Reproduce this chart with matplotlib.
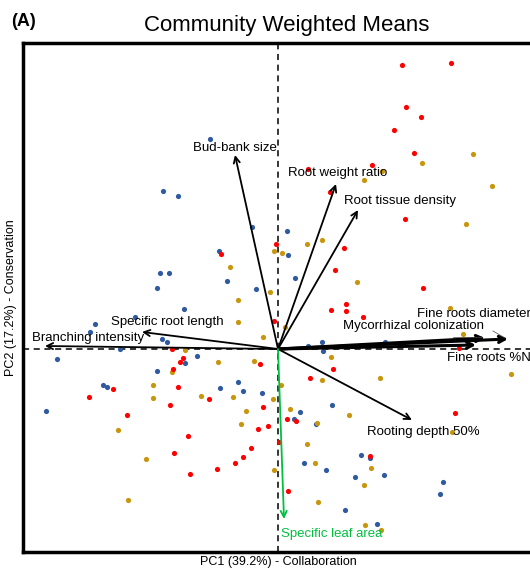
"""PCA biplot of community weighted means of root and bud traits."""

import matplotlib

matplotlib.use("Agg")

import matplotlib.pyplot as plt
import numpy as np

plt.rcParams["font.family"] = ["Liberation Sans", "DejaVu Sans"]

# site scores, grouped by colour
blue_x = [-0.68, -1.15, -1.00, -0.26, -0.59, -1.18, -1.09, -0.51, -1.21, -0.22,
          0.09, 0.10, 0.17, -0.94, -1.43, -1.83, -1.88, -1.16, -1.11, -1.58,
          -2.21, -0.93, -0.81, -1.21, -1.75, -1.71, -0.40, -0.58, -0.35, -2.32,
          0.44, 0.30, 0.45, 1.07, -0.16, 0.54, 0.22, 0.16, 0.38, 0.26,
          0.48, 0.83, 0.92, 0.77, 1.06, 1.65, 1.62, 0.67, 0.99]
blue_y = [2.10, 1.58, 1.53, 1.22, 0.98, 0.76, 0.76, 0.68, 0.61, 0.60,
          1.18, 0.94, 0.71, 0.40, 0.32, 0.25, 0.17, 0.10, 0.07, 0.00,
          -0.10, -0.14, -0.07, -0.22, -0.36, -0.38, -0.33, -0.39, -0.42, -0.62,
          0.07, 0.03, -0.02, 0.07, -0.44, -0.56, -0.63, -0.70, -0.75, -1.14,
          -1.21, -1.06, -1.09, -1.28, -1.26, -1.33, -1.45, -1.61, -1.75]

red_x = [-0.57, 1.24, 1.73, 1.28, 1.43, 1.16, 1.36, 0.94, 0.30, 0.52,
         1.27, -0.02, 0.66, 0.57, 1.45, -1.06, -0.95, -0.98, -0.18, -1.05,
         -1.65, -1.00, -1.89, -0.69, -1.08, -1.51, 0.68, 0.53, 0.68,
         0.85, -0.04, 1.81, 0.55, 0.32, -0.15, 1.77, 0.09, 0.18, -0.10,
         -0.20, -0.90, 0.01, -1.04, -0.27, -0.35, -0.43, -0.61, -0.88, 0.92,
         0.10]
red_y = [0.95, 2.84, 2.86, 2.42, 2.32, 2.19, 1.96, 1.84, 1.80, 1.57,
         1.30, 1.05, 1.01, 0.79, 0.61, 0.00, -0.09, -0.13, -0.15, -0.20,
         -0.40, -0.38, -0.48, -0.50, -0.56, -0.66, 0.45, 0.39, 0.38,
         0.32, 0.28, 0.01, -0.20, -0.29, -0.58, -0.64, -0.70, -0.72, -0.77,
         -0.80, -0.87, -0.93, -1.04, -0.99, -1.08, -1.14, -1.20, -1.25, -1.07,
         -1.42]

gold_x = [-0.48, 1.95, 1.44, 1.04, 0.86, 2.14, 1.88, -0.04, 0.04, 0.29,
          0.44, 0.79, -0.40, -0.40, -0.15, -0.93, -0.60, -0.24, -1.06, -1.25,
          -1.25, -0.77, -0.45, -0.32, -0.08, 1.72, 0.07, 1.85, 0.53, 0.44,
          1.02, 2.33, 0.03, -0.05, 0.12, 0.71, 0.39, 1.74, -1.60, -0.37,
          0.29, -1.32, -0.04, 0.37, 0.93, 0.86, -1.50, 0.40, 0.87, 1.03]
gold_y = [0.82, 1.95, 1.86, 1.78, 1.69, 1.63, 1.25, 0.98, 0.96, 1.05,
          1.09, 0.67, 0.49, 0.27, 0.12, -0.01, -0.13, -0.12, -0.23, -0.36,
          -0.49, -0.47, -0.48, -0.62, 0.57, 0.41, 0.22, 0.15, -0.08, -0.31,
          -0.29, -0.25, -0.36, -0.50, -0.60, -0.66, -0.74, -0.83, -0.81, -0.75,
          -0.95, -1.10, -1.21, -1.14, -1.19, -1.36, -1.51, -1.53, -1.76, -1.81]

# trait loadings
traits = ["Bud-bank size", "Root weight ratio", "Root tissue density",
          "Specific root length", "Branching intensity", "Fine roots diameter",
          "Mycorrhizal colonization", "Fine roots %N", "Rooting depth 50%",
          "Specific leaf area"]
load_x = [-0.43, 0.58, 0.80, -1.36, -2.33, 2.30, 2.07, 1.98, 1.34, 0.06]
load_y = [1.94, 1.65, 1.39, 0.17, 0.03, 0.10, 0.11, 0.04, -0.71, -1.70]

# where each label sits (left edge, vertical centre)
label_pos = {
    "Bud-bank size": (-0.85, 2.01),
    "Root weight ratio": (0.10, 1.76),
    "Root tissue density": (0.66, 1.48),
    "Specific root length": (-1.67, 0.27),
    "Branching intensity": (-2.46, 0.11),
    "Fine roots diameter": (1.39, 0.35),
    "Mycorrhizal colonization": (0.65, 0.23),
    "Fine roots %N": (1.69, -0.09),
    "Rooting depth 50%": (0.89, -0.83),
    "Specific leaf area": (0.03, -1.85),
}
thick = {"Fine roots diameter", "Mycorrhizal colonization", "Fine roots %N"}
leaders = {"Fine roots diameter": (2.15, 0.18), "Mycorrhizal colonization": (1.75, 0.12)}

W, H = 530, 575
fig = plt.figure(figsize=(W / 100, H / 100), dpi=100)
ax = fig.add_axes([23 / W, 1 - 552 / H, 510 / W, 509 / H])
ax.set_xlim(-2.55, 2.55)
ax.set_ylim(-2.03, 3.06)

ax.axhline(0, color="black", lw=1.1, ls=(0, (4, 3)), zorder=1)
ax.axvline(0, color="black", lw=1.1, ls=(0, (4, 3)), zorder=1)

ax.scatter(blue_x, blue_y, s=14, color="#2f5aa0", lw=0, zorder=2)
ax.scatter(gold_x, gold_y, s=14, color="#c8960c", lw=0, zorder=2)
ax.scatter(red_x, red_y, s=14, color="#ff0000", lw=0, zorder=2)

for name, lx, ly in zip(traits, load_x, load_y):
    col = "#00c040" if name == "Specific leaf area" else "black"
    lw = 2.2 if name in thick else 1.3
    ax.annotate("", xy=(lx, ly), xytext=(0, 0), zorder=3,
                arrowprops=dict(arrowstyle="->", color=col, lw=lw,
                                shrinkA=0, shrinkB=0, mutation_scale=11))
    tx, ty = label_pos[name]
    ax.text(tx, ty, name, color=col, fontsize=9.5, ha="left", va="center", zorder=4)
    if name in leaders:
        sx, sy = leaders[name]
        ax.plot([sx, lx - 0.03], [sy, ly + 0.01], color="#444444", lw=0.5, zorder=3)

ax.set_xticks([])
ax.set_yticks([])
for sp in ax.spines.values():
    sp.set_linewidth(2.5)

ax.set_xlabel("PC1 (39.2%) - Collaboration", fontsize=9, labelpad=3)
ax.set_ylabel("PC2 (17.2%) - Conservation", fontsize=9, labelpad=4)

fig.text(287 / W, 1 - 25 / H, "Community Weighted Means", fontsize=16,
         ha="center", va="center")
fig.text(11 / W, 1 - 22 / H, "(A)", fontsize=13, fontweight="bold",
         ha="left", va="center")

fig.savefig("out.png", dpi=100)
plt.close(fig)
